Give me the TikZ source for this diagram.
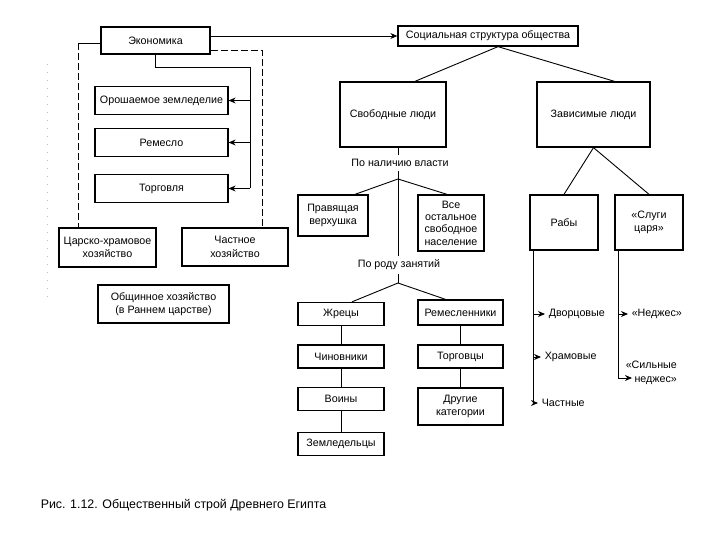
\documentclass[tikz,border=0pt]{standalone}
\usepackage{fontspec}
\setmainfont{Liberation Sans}
\usetikzlibrary{arrows.meta}

\begin{document}
\begin{tikzpicture}[x=1pt,y=-1pt,
  font=\fontsize{10.7}{13.5}\selectfont,
  >={Stealth[length=7pt,width=6pt]},
  line width=0.9pt,
  box/.style={draw,line width=1.3pt,align=center,inner sep=1pt},
  wh/.style 2 args={minimum width=#1,minimum height=#2},
  dashline/.style={dash pattern=on 7pt off 3pt}]
 \useasboundingbox (0,0) rectangle (720,540);

 % LEFT PART: ECONOMY
  \node[box,wh={109}{27}] (ekon) at (155.5,40.5) {Экономика};
  \foreach \nm/\y/\txt in {orosh/100.5/Орошаемое земледелие, remeslo/142.5/Ремесло, torg/188.5/Торговля} {
    \node[box,wh={133}{28}] (\nm) at (161.5,\y) {\txt};
  }
  \node[box,wh={97}{39}] (carsk) at (107.5,247.5) {Царско-храмовое\\хозяйство};
  \node[box,wh={106}{38}] (chastn) at (235,247) {Частное\\хозяйство};
  \node[box,wh={131}{38}] (obshch) at (163.5,304) {Общинное хозяйство\\(в Раннем царстве)};

  \coordinate (dl) at (78,43);
  \coordinate (dr) at (262,50);
  \coordinate (br) at (250,67);
  \draw (ekon.west |- dl) -- (dl);
  \draw[dashline] (dl) -- (dl |- carsk.north);
  \draw[dashline] (ekon.east |- dr) -- (dr) -- (dr |- chastn.north);
  \draw (ekon.south) |- (br) -- (br |- torg.east);
  \foreach \nm in {orosh,remeslo,torg} {
    \draw[->] (br |- \nm.east) -- (\nm.east);
  }
  % dots at the left margin
  \draw[gray!50,line width=0.7pt,dash pattern=on 1pt off 7pt] (47,64) -- (47,300);

 % RIGHT PART: SOCIAL STRUCTURE
  \node[box,wh={180}{20}] (soc) at (488,36) {Социальная структура общества};
  \draw[->] (ekon.east |- soc.west) -- (soc.west);

  \node[box,wh={106}{65}] (svob) at (393,114.5) {Свободные люди};
  \node[box,wh={113}{65}] (zavis) at (593.5,114.5) {Зависимые люди};
  \draw ([xshift=10pt]soc.south) -- ([xshift=22pt]svob.north);
  \draw ([xshift=10pt]soc.south) -- ([xshift=21pt]zavis.north);

  \node (vlast) at (400,163) {По наличию власти};
  \node[box,wh={70}{41}] (prav) at (333,215.5) {Правящая\\верхушка};
  \node[box,wh={66}{56},font=\fontsize{10.7}{12.4}\selectfont] (vse) at (451,223) {Все\\остальное\\свободное\\население};
  \node (zan) at (399,265) {По роду занятий};

  \coordinate (v1) at (398,147);
  \coordinate (vb) at (398,179);
  \coordinate (v2) at (398,283);
  \draw (v1) -- (vlast.north -| v1);
  \draw (vlast.south -| v1) -- (zan.north -| v1);
  \draw (vb) -- ([xshift=22pt]prav.north);
  \draw (vb) -- ([xshift=-4pt]vse.north);

  \foreach \nm/\y/\txt in {zhrec/314/Жрецы, chinov/356.5/Чиновники, voiny/399/Воины, zemled/444/Земледельцы} {
    \node[box,wh={86}{23}] (\nm) at (341,\y) {\txt};
  }
  \node[box,wh={85}{25}] (remeslenn) at (460.5,312.5) {Ремесленники};
  \node[box,wh={85}{23}] (torgovcy) at (460.5,356.5) {Торговцы};
  \node[box,wh={85}{37}] (drugie) at (460.5,406.5) {Другие\\категории};

  \draw (zan.south -| v2) -- (v2);
  \draw (v2) -- ([xshift=11pt]zhrec.north);
  \draw (v2) -- ([xshift=-15pt]remeslenn.north);
  \draw (zhrec) -- (chinov) -- (voiny) -- (zemled);
  \draw (remeslenn) -- (torgovcy) -- (drugie);

  \node[box,wh={68}{55}] (raby) at (564,222.5) {Рабы};
  \node[box,wh={68}{55}] (slugi) at (649,222.5) {«Слуги\\царя»};
  \draw (zavis.south) -- (raby.north);
  \draw (zavis.south) -- (slugi.north);

  \node[anchor=west] (dvorc) at (545,314) {Дворцовые};
  \node[anchor=west] (hram) at (541,357) {Храмовые};
  \node[anchor=west] (chastnye) at (538,403) {Частные};
  \node[anchor=west] (nedzhes) at (628,314) {«Неджес»};
  \node[anchor=west,align=right] (silnye) at (622,373) {«Сильные\\неджес»};

  \coordinate (r0) at (533,0 |- raby.south);
  \draw (r0) -- (r0 |- chastnye.west);
  \foreach \nm in {dvorc,hram,chastnye} {
    \draw[->] (r0 |- \nm.west) -- (\nm.west);
  }
  \coordinate (s0) at (618,0 |- slugi.south);
  \coordinate (s1) at (618,378);
  \coordinate (s2) at (632,378);
  \draw (s0) -- (s1);
  \draw[->] (s0 |- nedzhes.west) -- (nedzhes.west);
  \draw[->] (s1) -- (s2);

  \node[anchor=west,font=\fontsize{12.4}{14}\selectfont] (cap) at (37,505) {Рис. 1.12. Общественный строй Древнего Египта};
\end{tikzpicture}
\end{document}
